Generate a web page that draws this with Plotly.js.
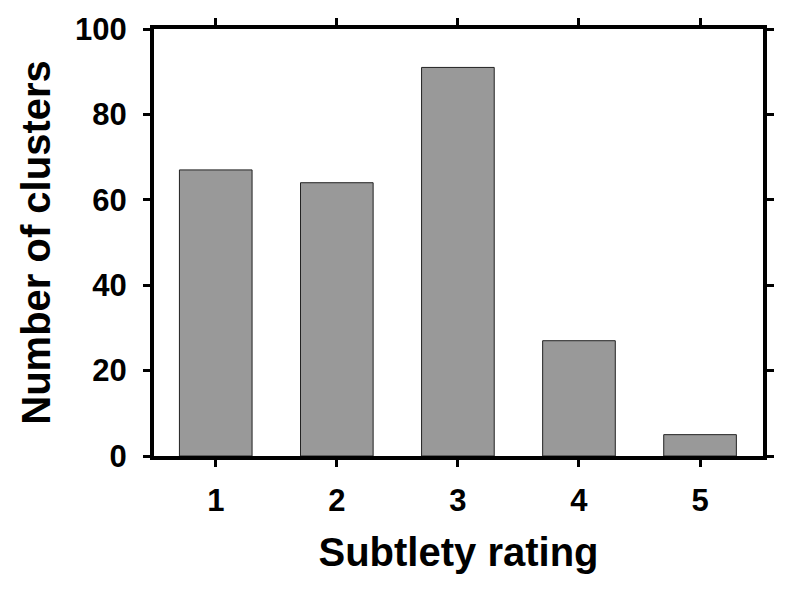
<!DOCTYPE html>
<html><head><meta charset="utf-8">
<script src="https://cdn.plot.ly/plotly-3.0.1.min.js"></script>
<style>body{margin:0;padding:0;background:#fff}#chart{width:792px;height:592px}</style>
</head><body><div id="chart"></div>
<script>
const categories = [1, 2, 3, 4, 5];
const clusterCounts = [67, 64, 91, 27, 5];
const yTickValues = [0, 20, 40, 60, 80, 100];

const fontFam = '"Liberation Sans", Arial, Helvetica, sans-serif';
const data = [{
  type: 'bar',
  x: categories,
  y: clusterCounts,
  width: 0.6,
  marker: {color: '#999999', line: {color: '#222222', width: 1}},
  hoverinfo: 'none'
}];
const layout = {
  width: 792, height: 592,
  margin: {l: 154, r: 29, t: 29, b: 136},
  paper_bgcolor: '#fff', plot_bgcolor: '#fff',
  showlegend: false,
  font: {family: fontFam, color: '#000'},
  xaxis: {
    range: [0.49, 5.52],
    tickvals: categories,
    ticktext: categories.map(String),
    ticks: 'outside', ticklen: 7, tickwidth: 3, tickcolor: '#000',
    showline: true, linewidth: 4, linecolor: '#000', mirror: 'ticks',
    showgrid: false, zeroline: false,
    tickfont: {size: 31, family: fontFam, weight: 'bold'},
    ticklabelstandoff: 7,
    title: {text: '<b>Subtlety rating</b>', font: {size: 40, family: fontFam}, standoff: 22}
  },
  yaxis: {
    range: [0, 100],
    tickvals: yTickValues,
    ticks: 'outside', ticklen: 7, tickwidth: 3, tickcolor: '#000',
    showline: true, linewidth: 4, linecolor: '#000', mirror: 'ticks',
    showgrid: false, zeroline: false,
    tickfont: {size: 31, family: fontFam, weight: 'bold'},
    ticklabelstandoff: 10,
    title: {text: '<b>Number of clusters</b>', font: {size: 40, family: fontFam}, standoff: 13}
  }
};
Plotly.newPlot('chart', data, layout, {displayModeBar: false, staticPlot: true});
</script></body></html>
